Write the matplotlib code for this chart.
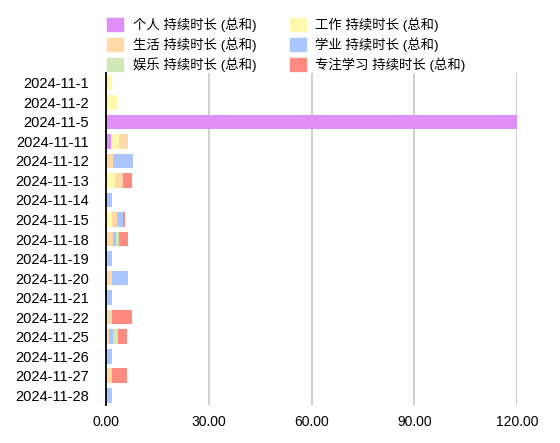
import matplotlib
matplotlib.use('Agg')
import matplotlib.pyplot as plt
import matplotlib.patches as mpatches
from matplotlib.ticker import FormatStrFormatter

plt.rcParams['font.family'] = ['Liberation Sans', 'Noto Sans CJK SC']

# 日期
dates = ['2024-11-1', '2024-11-2', '2024-11-5', '2024-11-11', '2024-11-12',
         '2024-11-13', '2024-11-14', '2024-11-15', '2024-11-18', '2024-11-19',
         '2024-11-20', '2024-11-21', '2024-11-22', '2024-11-25', '2024-11-26',
         '2024-11-27', '2024-11-28']

# 各类别持续时长 (总和)
personal = [0, 0, 120, 1.5, 0, 0, 0, 0, 0, 0, 0, 0, 0, 0, 0, 0, 0]
work = [1.8, 3.1, 0, 2.3, 0, 2.6, 0, 1.7, 0, 0, 0, 0, 0, 0, 0, 0, 0]
life = [0, 0, 0, 2.6, 2.0, 2.3, 0, 1.5, 2.0, 0, 1.75, 0, 0.9, 0.9, 0, 1.75, 0]
study = [0, 0, 0, 0, 5.9, 0, 1.7, 1.7, 0.9, 1.7, 4.7, 1.7, 0, 1.2, 1.7, 0, 1.7]
fun = [0, 0, 0, 0, 0, 0, 0, 0, 0.9, 0, 0, 0, 0.9, 1.5, 0, 0, 0]
focus = [0, 0, 0, 0, 0, 2.7, 0, 0.6, 2.6, 0, 0, 0, 5.8, 2.6, 0, 4.4, 0]

series = [
    ('个人 持续时长 (总和)', personal, '#e08ff9'),
    ('工作 持续时长 (总和)', work, '#fff9b0'),
    ('生活 持续时长 (总和)', life, '#ffd9a8'),
    ('学业 持续时长 (总和)', study, '#a9c6ff'),
    ('娱乐 持续时长 (总和)', fun, '#d0e8b8'),
    ('专注学习 持续时长 (总和)', focus, '#ff8a80'),
]

fig = plt.figure(figsize=(5.6, 4.43), dpi=100)
ax = fig.add_axes([106 / 560, 1 - 405 / 443, 411 / 560, 332 / 443])

y = list(range(len(dates)))
left = [0] * len(dates)
for name, vals, color in series:
    ax.barh(y, vals, left=left, height=0.75, color=color, label=name)
    left = [a + b for a, b in zip(left, vals)]

ax.set_xlim(0, 120)
ax.set_ylim(len(dates) - 0.5, -0.5)
ax.set_yticks(y)
ax.set_yticklabels(dates, fontsize=10.5)
ax.set_xticks([0, 30, 60, 90, 120])
ax.xaxis.set_major_formatter(FormatStrFormatter('%.2f'))
ax.tick_params(axis='x', length=0, pad=7, labelsize=10)
ax.tick_params(axis='y', length=0, pad=12)
ax.grid(axis='x', color='#cccccc', linewidth=1.3)
ax.set_axisbelow(True)
for s in ['top', 'right', 'bottom']:
    ax.spines[s].set_visible(False)
ax.spines['left'].set_color('black')
ax.spines['left'].set_linewidth(1.3)
ax.spines['left'].set_zorder(5)

# 图例：按行排列
handles = [mpatches.Patch(color=c, label=n) for n, v, c in series]
order = [0, 2, 4, 1, 3, 5]
fig.legend(handles=[handles[i] for i in order], ncol=2, frameon=False,
           loc='upper left', bbox_to_anchor=(102 / 560, 1 - 12 / 443),
           fontsize=9.6, handlelength=1.2, handleheight=1.2, handletextpad=0.7,
           labelspacing=0.4, columnspacing=2.5, borderaxespad=0)

fig.savefig('out.png', dpi=100)
